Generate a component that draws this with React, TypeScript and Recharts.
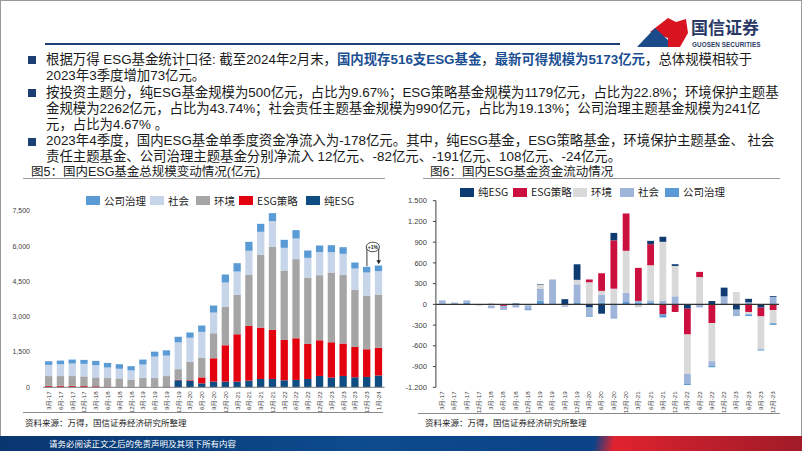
import React from 'react';
import { BarChart, Bar, XAxis, YAxis, ReferenceLine, ReferenceDot } from 'recharts';

// ---------- Figure 5: total size (亿元) ----------
const sizeCategories = ['3月-17','6月-17','9月-17','12月-17','3月-18','6月-18','9月-18','12月-18','3月-19','6月-19','9月-19','12月-19','3月-20','6月-20','9月-20','12月-20','3月-21','6月-21','9月-21','12月-21','3月-22','6月-22','9月-22','12月-22','3月-23','6月-23','9月-23','12月-23','1月-24'];
const sizePure = [20,20,20,20,15,10,10,10,10,10,30,300,270,168,241,241,241,283,354,354,298,312,354,482,411,482,425,439,500];
const sizeStrategy = [40,45,40,35,30,20,15,10,10,10,10,20,30,252,992,1544,2012,2324,2182,2083,1714,1771,1488,1516,1502,1374,1290,1176,1179];
const sizeEnv = [417,412,417,408,375,363,354,302,387,373,437,451,780,842,1063,1644,1672,2182,3089,3529,2948,3358,2820,2763,2961,2919,2423,2268,2262];
const sizeSocial = [476,504,532,532,519,448,406,393,560,911,869,1136,1023,1093,878,1020,992,1007,978,1091,963,879,836,978,865,893,907,992,990];
const sizeGov = [154,154,169,169,183,196,196,182,211,210,224,238,224,267,298,340,354,382,340,340,340,354,312,283,297,283,255,240,241];
const sizeTicks = [0,1500,3000,4500,6000,7500];

// ---------- Figure 6: flows ----------
const flowCategories = ['3月-17','6月-17','9月-17','12月-17','3月-18','6月-18','9月-18','12月-18','3月-19','6月-19','9月-19','12月-19','3月-20','6月-20','9月-20','12月-20','3月-21','6月-21','9月-21','12月-21','3月-22','6月-22','9月-22','12月-22','3月-23','6月-23','9月-23','12月-23'];
const flowPure = [0,0,0,5,8,0,12,0,8,0,75,225,-45,-135,107,0,-15,48,73,25,-63,0,48,126,-77,50,-48,12];
const flowStrategy = [0,0,0,-5,0,-22,0,0,0,0,0,0,40,255,700,540,478,305,-145,-110,-373,75,-271,0,0,-110,-126,-82];
const flowEnv = [0,10,0,-15,-20,0,-10,-15,60,0,-15,65,320,55,215,610,-30,508,850,440,-571,385,-552,-12,179,-35,-469,-191];
const flowSocial = [45,25,35,0,-35,-58,-35,-55,170,355,-20,270,-125,115,-208,130,20,38,55,116,-136,-45,-63,116,-82,30,-10,108];
const flowGov = [12,0,22,0,0,0,0,-15,52,5,0,20,-10,25,12,35,30,20,-45,0,-24,10,-24,0,-10,-25,-14,-24];
const flowTicks = [-1200,-900,-600,-300,0,300,600,900,1200,1500];

const C5 = { pure: '#0F4C81', strat: '#E3000F', env: '#A5A5A5', soc: '#C6D5EA', gov: '#5B9BD5' };
const C6 = { pure: '#0E3C72', strat: '#CB1040', env: '#D9D9D9', soc: '#9FB4D9', gov: '#5B9BD5' };

const sizeData = sizeCategories.map((cat, i) => ({
  cat, pure: sizePure[i], strat: sizeStrategy[i], env: sizeEnv[i], soc: sizeSocial[i], gov: sizeGov[i],
}));

const keys = ['pure', 'strat', 'env', 'soc', 'gov'] as const;
const flowSeries: Record<string, number[]> = { pure: flowPure, strat: flowStrategy, env: flowEnv, soc: flowSocial, gov: flowGov };
const flowData = flowCategories.map((cat, i) => {
  const row: any = { cat };
  keys.forEach((k) => {
    const v = flowSeries[k][i];
    row[k + 'N'] = Math.min(v, 0);
    row[k + 'P'] = Math.max(v, 0);
  });
  return row;
});

const NUM_FONT = '"Liberation Sans", Arial, "Noto Sans CJK SC", sans-serif';
const CJK_FONT = '"Noto Sans CJK SC", "Noto Sans", sans-serif';
const TEXT_FONT = '"Liberation Sans", "Noto Sans CJK SC", sans-serif';

const VTick = (props: any) => {
  const { x, y, payload } = props;
  return (
    <text
      transform={`translate(${x},${y + 1}) rotate(-90)`}
      textAnchor="end"
      dy="0.35em"
      fontSize={6.2}
      fill="#404040"
      fontFamily={NUM_FONT}
    >
      {payload.value}
    </text>
  );
};

const fmtComma = (v: number) => v.toLocaleString('en-US');
const fmtDot = (v: number) => {
  const a = Math.abs(v);
  const s = v < 0 ? '-' : '';
  if (a >= 1000) {
    const r = String(a % 1000).padStart(3, '0');
    return `${s}${Math.floor(a / 1000)}.${r}`;
  }
  return String(v);
};

const ArrowDown = (p: any) => {
  const { x1, y1, x2, y2 } = p;
  return (
    <g>
      <line x1={x1} y1={y1} x2={x2} y2={y2 - 3} stroke="#222" strokeWidth={0.9} />
      <polygon points={`${x2 - 2.3},${y2 - 4} ${x2 + 2.3},${y2 - 4} ${x2},${y2}`} fill="#222" />
    </g>
  );
};
const PlainLine = (p: any) => {
  const { x1, y1, x2, y2 } = p;
  return <line x1={x1} y1={y1} x2={x2} y2={y2} stroke="#222" strokeWidth={0.9} />;
};
const PctBubble = (p: any) => {
  const { cx, cy } = p;
  if (cx == null || cy == null) return null;
  return (
    <g>
      <ellipse cx={cx + 5.9} cy={cy} rx={6.6} ry={4.8} fill="#fff" stroke="#222" strokeWidth={0.8} />
      <text x={cx + 5.9} y={cy} dy="0.35em" textAnchor="middle" fontSize={5} fontWeight="bold" fill="#222" fontFamily={NUM_FONT}>+1%</text>
    </g>
  );
};

type LegendItem = { name: string; color: string; left: number };
const size5Legend: LegendItem[] = [
  { name: '公司治理', color: C5.gov, left: 86 },
  { name: '社会', color: C5.soc, left: 150 },
  { name: '环境', color: C5.env, left: 196 },
  { name: 'ESG策略', color: C5.strat, left: 239 },
  { name: '纯ESG', color: C5.pure, left: 306 },
];
const flow6Legend: LegendItem[] = [
  { name: '纯ESG', color: C6.pure, left: 460 },
  { name: 'ESG策略', color: C6.strat, left: 513 },
  { name: '环境', color: C6.env, left: 573 },
  { name: '社会', color: C6.soc, left: 620 },
  { name: '公司治理', color: C6.gov, left: 665 },
];

function HtmlLegend({ items, cy }: { items: LegendItem[]; cy: number }) {
  return (
    <>
      {items.map((it) => (
        <div key={it.name} style={{ position: 'absolute', left: it.left, top: cy - 7, height: 14, display: 'flex', alignItems: 'center', whiteSpace: 'nowrap' }}>
          <div style={{ width: 14, height: 9, background: it.color }} />
          <span style={{ marginLeft: 4, fontSize: 10.5, color: '#222', fontFamily: CJK_FONT, lineHeight: '14px' }}>{it.name}</span>
        </div>
      ))}
    </>
  );
}

const hl: React.CSSProperties = { color: '#1B4F93', fontWeight: 700 };

function Line({ top, children, left = 46 }: { top: number; children: React.ReactNode; left?: number }) {
  return (
    <div style={{ position: 'absolute', left, top: top - 8, height: 16, lineHeight: '16px', fontSize: 13.4, color: '#1a1a1a', whiteSpace: 'nowrap', fontFamily: TEXT_FONT }}>
      {children}
    </div>
  );
}
function Bullet({ cy }: { cy: number }) {
  return <div style={{ position: 'absolute', left: 28, top: cy - 4, width: 8, height: 8, background: '#1C3F75' }} />;
}

export default function App() {
  return (
    <div style={{ position: 'absolute', left: 0, top: 0, width: 802, height: 451, background: '#fff', overflow: 'hidden', fontFamily: CJK_FONT }}>
      {/* frame */}
      <div style={{ position: 'absolute', left: 0, top: 0, width: 800, height: 449, border: '1px solid #9a9a9a' }} />

      {/* logo */}
      <svg style={{ position: 'absolute', left: 630, top: 8 }} width={172} height={44}>
        <path d="M20 24 L38 10 L46 14 L56 11 L58 25 L50 39 L38 39 L38 30 Z" fill="#D7141F" />
        <path d="M7 39 L25 20 L38 32 L38 39 Z" fill="#1B4A8A" />
        <text x={61} y={26} fontSize={17} fontWeight={700} fill="#2A3A66" fontFamily={CJK_FONT}>国信证券</text>
        <text x={62} y={39} fontSize={6.3} fontWeight={700} fill="#2A3A66" fontFamily={NUM_FONT} letterSpacing={0.1}>GUOSEN SECURITIES</text>
      </svg>
      <div style={{ position: 'absolute', left: 45, top: 43, width: 575, height: 2, background: '#1C3F75' }} />

      {/* bullets */}
      <Bullet cy={60} />
      <Line top={60}>根据万得 ESG基金统计口径: 截至2024年2月末，<span style={hl}>国内现存516支ESG基金</span>，<span style={hl}>最新可得规模为5173亿元</span>，总体规模相较于</Line>
      <Line top={76}>2023年3季度增加73亿元。</Line>
      <Bullet cy={93} />
      <Line top={93}>按投资主题分，纯ESG基金规模为500亿元，占比为9.67%；ESG策略基金规模为1179亿元，占比为22.8%；环境保护主题基</Line>
      <Line top={109}>金规模为2262亿元，占比为43.74%；社会责任主题基金规模为990亿元，占比为19.13%；公司治理主题基金规模为241亿</Line>
      <Line top={125}>元，占比为4.67% 。</Line>
      <Bullet cy={142} />
      <Line top={141}>2023年4季度，国内ESG基金单季度资金净流入为-178亿元。其中，纯ESG基金，ESG策略基金，环境保护主题基金、 社会</Line>
      <Line top={157}>责任主题基金、公司治理主题基金分别净流入 12亿元、-82亿元、-191亿元、108亿元、-24亿元。</Line>

      {/* titles */}
      <div style={{ position: 'absolute', left: 31, top: 165.5, fontSize: 12.5, lineHeight: '12px', color: '#222', whiteSpace: 'nowrap', fontFamily: TEXT_FONT }}>图5：国内ESG基金总规模变动情况(亿元)</div>
      <div style={{ position: 'absolute', left: 23, top: 177.5, width: 362, height: 1, background: '#9a9a9a' }} />
      <div style={{ position: 'absolute', left: 430, top: 165.5, fontSize: 12.5, lineHeight: '12px', color: '#222', whiteSpace: 'nowrap', fontFamily: TEXT_FONT }}>图6：国内ESG基金资金流动情况</div>
      <div style={{ position: 'absolute', left: 423, top: 177.5, width: 357, height: 1, background: '#9a9a9a' }} />

      {/* left chart */}
      <HtmlLegend items={size5Legend} cy={200.7} />
      <div style={{ position: 'absolute', left: 0, top: 190 }}>
        <BarChart width={400} height={226} data={sizeData} margin={{ top: 20.7, right: 15.4, bottom: 3.7, left: 0 }}>
          <XAxis dataKey="cat" interval={0} tick={<VTick />} tickLine={false} tickSize={1} axisLine={{ stroke: '#808080' }} height={25} />
          <YAxis width={43} domain={[0, 7500]} ticks={sizeTicks} tickFormatter={fmtComma} axisLine={false} tickLine={false} tickMargin={7} tick={{ fontSize: 7, fill: '#404040', fontFamily: NUM_FONT }} />
          <Bar dataKey="pure" stackId="s" fill={C5.pure} barSize={7.3} isAnimationActive={false} />
          <Bar dataKey="strat" stackId="s" fill={C5.strat} barSize={7.3} isAnimationActive={false} />
          <Bar dataKey="env" stackId="s" fill={C5.env} barSize={7.3} isAnimationActive={false} />
          <Bar dataKey="soc" stackId="s" fill={C5.soc} barSize={7.3} isAnimationActive={false} />
          <Bar dataKey="gov" stackId="s" fill={C5.gov} barSize={7.3} isAnimationActive={false} />
          <ReferenceLine segment={[{ x: '12月-23', y: 5140 }, { x: '12月-23', y: 5975 }]} shape={<PlainLine />} ifOverflow="visible" />
          <ReferenceLine segment={[{ x: '1月-24', y: 5910 }, { x: '1月-24', y: 5230 }]} shape={<ArrowDown />} ifOverflow="visible" />
          <ReferenceDot x="12月-23" y={5960} shape={<PctBubble />} ifOverflow="visible" />
        </BarChart>
      </div>
      <div style={{ position: 'absolute', left: 23, top: 412, width: 360, height: 1, background: '#8a8a8a' }} />
      <div style={{ position: 'absolute', left: 25, top: 415, fontSize: 8.5, lineHeight: '14px', color: '#222', whiteSpace: 'nowrap' }}>资料来源：万得，国信证券经济研究所整理</div>

      {/* right chart */}
      <HtmlLegend items={flow6Legend} cy={192.3} />
      <div style={{ position: 'absolute', left: 400, top: 185 }}>
        <BarChart width={402} height={231} data={flowData} margin={{ top: 15.7, right: 23, bottom: 3.7, left: 0 }} stackOffset="sign">
          <XAxis dataKey="cat" interval={0} tick={<VTick />} tickLine={false} tickSize={1} axisLine={false} height={25} />
          <YAxis width={35.9} domain={[-1200, 1500]} ticks={flowTicks} tickFormatter={fmtDot} axisLine={{ stroke: '#404040' }} tickLine={{ stroke: '#404040' }} tickSize={3} tickMargin={6} tick={{ fontSize: 7.5, fill: '#404040', fontFamily: NUM_FONT }} />
          <Bar dataKey="pureN" stackId="f" fill={C6.pure} barSize={6.8} isAnimationActive={false} />
          <Bar dataKey="stratN" stackId="f" fill={C6.strat} barSize={6.8} isAnimationActive={false} />
          <Bar dataKey="envN" stackId="f" fill={C6.env} barSize={6.8} isAnimationActive={false} />
          <Bar dataKey="socN" stackId="f" fill={C6.soc} barSize={6.8} isAnimationActive={false} />
          <Bar dataKey="govN" stackId="f" fill={C6.gov} barSize={6.8} isAnimationActive={false} />
          <Bar dataKey="govP" stackId="f" fill={C6.gov} barSize={6.8} isAnimationActive={false} />
          <Bar dataKey="socP" stackId="f" fill={C6.soc} barSize={6.8} isAnimationActive={false} />
          <Bar dataKey="envP" stackId="f" fill={C6.env} barSize={6.8} isAnimationActive={false} />
          <Bar dataKey="stratP" stackId="f" fill={C6.strat} barSize={6.8} isAnimationActive={false} />
          <Bar dataKey="pureP" stackId="f" fill={C6.pure} barSize={6.8} isAnimationActive={false} />
          <ReferenceLine y={0} stroke="#333" strokeWidth={1.2} />
        </BarChart>
      </div>
      <div style={{ position: 'absolute', left: 418, top: 413, width: 362, height: 1, background: '#8a8a8a' }} />
      <div style={{ position: 'absolute', left: 425, top: 415, fontSize: 8.5, lineHeight: '14px', color: '#222', whiteSpace: 'nowrap' }}>资料来源：万得，国信证券经济研究所整理</div>

      {/* footer band */}
      <div style={{ position: 'absolute', left: 0, top: 436, width: 802, height: 15, background: 'linear-gradient(100deg, #0A3670 0%, #0C4B8E 45%, #0C4286 74%, #E1232E 76.5%, #C21F2C 86%, #A01B27 100%)' }} />
      <div style={{ position: 'absolute', left: 49, top: 436, fontSize: 8.5, lineHeight: '15px', color: '#fff', whiteSpace: 'nowrap' }}>请务必阅读正文之后的免责声明及其项下所有内容</div>
    </div>
  );
}
